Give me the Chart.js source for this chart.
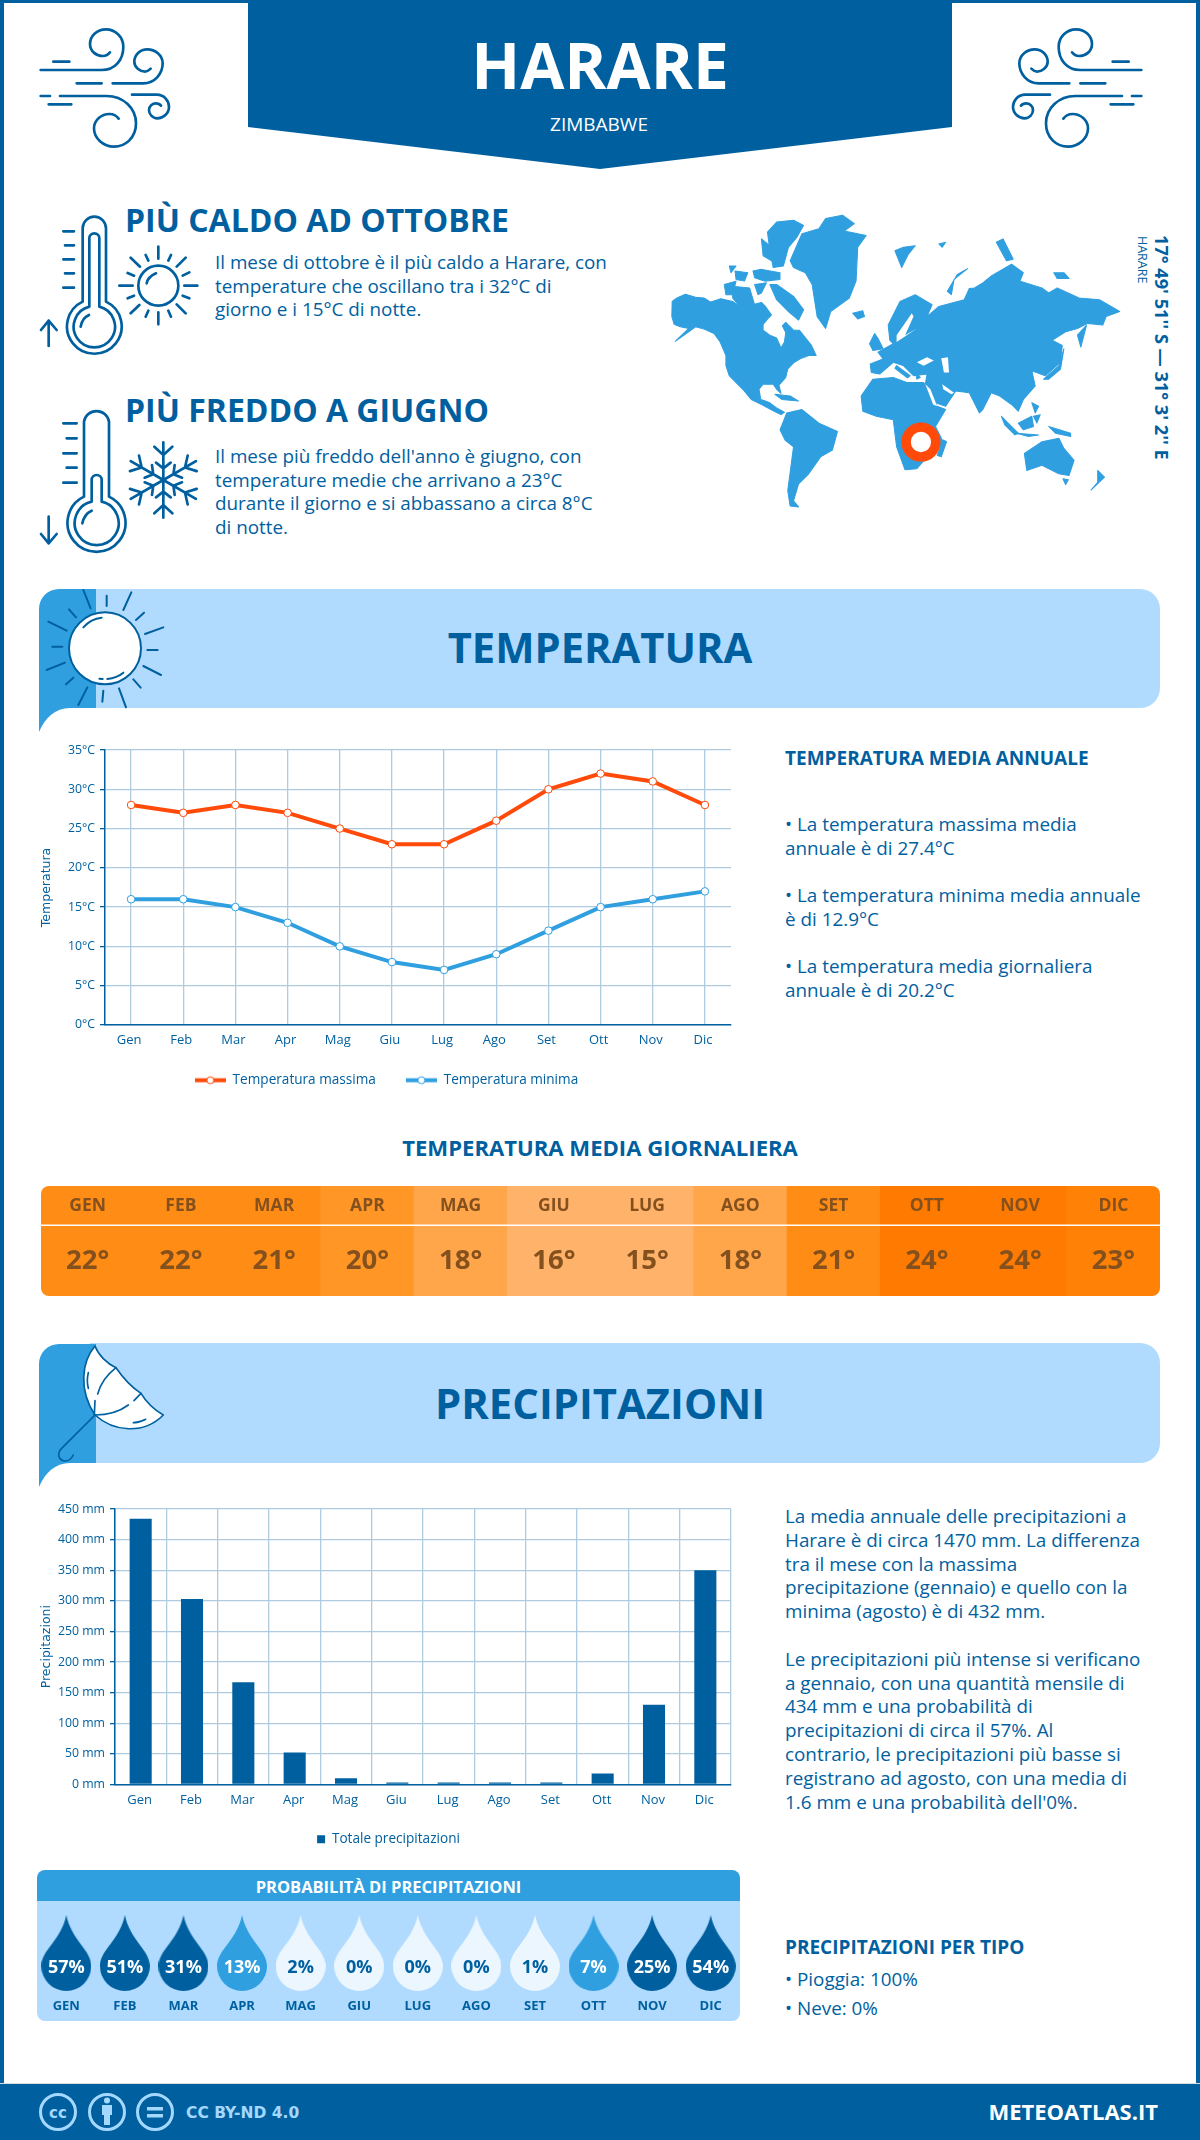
<!DOCTYPE html>
<html lang="it">
<head>
<meta charset="utf-8">
<title>Harare - Zimbabwe</title>
<script src="https://cdn.jsdelivr.net/npm/chart.js@4"></script>
<style>
html, body { margin: 0; padding: 0; background: #fff; }
#page { position: relative; width: 1200px; height: 2140px; overflow: hidden; background: #fff; font-family: "Open Sans", sans-serif; color: #00609f; }
#frame { position: absolute; left: 0; top: 0; width: 1192px; height: 2137px; border: 4px solid #00609f; border-top-width: 3px; border-bottom: 0; }
.t { position: absolute; white-space: nowrap; }
.b { font-weight: 700; }
.para { font-size: 18.85px; line-height: 23.7px; }
svg, canvas { position: absolute; display: block; }
.ink { fill: none; stroke: #00609f; stroke-linecap: round; stroke-linejoin: round; }
#footer { position: absolute; left: 0; top: 2083px; width: 1200px; height: 57px; background: #00609f; border-top: 1.5px solid #d5dde3; box-sizing: border-box; }
</style>
</head>
<body>
<div id="page">
  <div id="frame"></div>

  <!-- header -->
  <svg style="left:0;top:0" width="1200" height="180"><polygon points="248,0 952,0 952,127 600,169 248,127" fill="#00609f"/></svg>
  <div class="t b" style="left:248px;width:704px;text-align:center;top:21px;font-size:64px;line-height:88px;color:#fff">HARARE</div>
  <div class="t" style="left:247px;width:704px;text-align:center;top:110px;font-size:19px;line-height:28px;color:#fff">ZIMBABWE</div>
  <svg style="left:20px;top:10px" width="160" height="160" viewBox="0 0 480 480"><use href="#wind"/></svg>
  <svg style="left:1002px;top:10px;transform:scaleX(-1)" width="160" height="160" viewBox="0 0 480 480">
    <g id="wind" class="ink" stroke-width="8">
      <path d="M62,180 H245 C285,180 310,150 310,110 C310,80 285,58 258,58 C230,58 210,78 210,102 C210,125 230,138 248,138 C258,138 266,133 270,127"/>
      <path d="M100,155 H148 M170,220 H245 M62,258 H90 M86,283 H154"/>
      <path d="M278,220 H370 C405,220 428,190 428,160 C428,135 405,118 382,118 C360,118 343,135 343,155 C343,172 360,185 375,185 C383,185 388,180 392,176"/>
      <path d="M120,258 H260 C310,258 348,295 348,340 C348,385 315,410 282,410 C250,410 222,385 222,355 C222,330 245,312 268,312 C280,312 290,318 296,326"/>
      <path d="M336,254 H410 C435,254 447,275 447,290 C447,310 430,325 412,325 C397,325 387,312 387,300 C387,288 397,280 408,280 C415,280 420,283 423,287"/>
    </g>
  </svg>

  <!-- hottest / coldest -->
  <svg style="left:20px;top:190px" width="300" height="380" viewBox="0 0 900 1140">
    <g class="ink" stroke-width="8">
      <path d="M188,335 V115 A35,35 0 0 1 258,115 V335 A82,82 0 1 1 188,335 Z"/>
      <path d="M208,350 V145 A15,15 0 0 1 238,145 V350 A62,62 0 1 1 208,350 Z"/>
      <path d="M182,410 C185,392 195,380 207,375"/>
      <path d="M130,124 H162 M135,166 H162 M130,208 H162 M135,250 H162 M130,293 H162"/>
      <path d="M86,468 V392 M63,420 L86,392 L110,420"/>
      <circle cx="415" cy="287" r="60"/>
      <path d="M380,280 C382,268 390,258 408,250"/>
      <path d="M415,170 V206 M415,367 V403 M298,287 H338 M493,287 H532 M332,203 L360,230 M497,203 L470,230 M332,370 L358,345 M497,370 L470,343"/>
      <path d="M377,195 L385,212 M453,195 L445,212 M323,249 L342,257 M508,247 L488,257 M323,325 L342,317 M508,325 L488,317 M377,380 L385,362 M453,380 L445,362"/>

      <path d="M192,920 V695 A38,38 0 0 1 267,695 V920 A87,87 0 1 1 192,920 Z"/>
      <path d="M215,935 V870 A15,15 0 0 1 245,870 V935 A66,66 0 1 1 215,935 Z"/>
      <path d="M187,1000 C190,985 197,970 215,962"/>
      <path d="M130,700 H170 M140,745 H170 M130,790 H170 M140,833 H170 M130,878 H170"/>
      <path d="M86,980 V1060 M63,1032 L86,1060 L110,1032"/>
      <g transform="translate(430,870)">
        <g id="arm"><path d="M0,0 V-113 M-27,-100 L0,-75 L27,-100 M-22,-52 L0,-35 L22,-52"/></g>
        <use href="#arm" transform="rotate(60)"/>
        <use href="#arm" transform="rotate(120)"/>
        <use href="#arm" transform="rotate(180)"/>
        <use href="#arm" transform="rotate(240)"/>
        <use href="#arm" transform="rotate(300)"/>
      </g>
    </g>
  </svg>
  <div class="t b" style="left:125px;top:199px;font-size:32px;line-height:42px">PIÙ CALDO AD OTTOBRE</div>
  <div class="t para" style="left:215px;top:251px">Il mese di ottobre è il più caldo a Harare, con<br>temperature che oscillano tra i 32°C di<br>giorno e i 15°C di notte.</div>
  <div class="t b" style="left:125px;top:389px;font-size:32px;line-height:42px">PIÙ FREDDO A GIUGNO</div>
  <div class="t para" style="left:215px;top:445px">Il mese più freddo dell'anno è giugno, con<br>temperature medie che arrivano a 23°C<br>durante il giorno e si abbassano a circa 8°C<br>di notte.</div>

  <!-- world map -->
  <svg style="left:660px;top:200px" width="530" height="530" viewBox="0 0 1568 1568">
    <g fill="#2f9fe0" stroke="#2f9fe0" stroke-width="3" stroke-linejoin="round">
      <path d="M36,300 L50,290 L75,279 L105,288 L130,290 L150,302 L180,292 L215,300 L235,315 L265,312 L300,303 L312,315 L330,340 L320,350 L305,368 L305,385 L325,400 L345,408 L358,438 L368,420 L372,392 L362,372 L372,362 L395,385 L412,385 L428,405 L448,430 L462,460 L440,460 L415,470 L395,482 L378,500 L372,525 L352,548 L358,572 L345,560 L335,545 L305,545 L293,560 L298,590 L325,600 L345,615 L368,628 L358,635 L338,625 L310,610 L270,590 L245,560 L225,540 L205,520 L195,490 L195,460 L178,420 L160,395 L130,382 L105,375 L85,390 L45,418 L85,380 L60,375 L42,368 L35,345 Z"/>
      <path d="M318,95 L345,65 L395,60 L425,75 L405,110 L380,140 L365,195 L335,200 L325,150 Z"/>
      <path d="M325,250 L345,250 L395,285 L425,325 L410,355 L380,330 L345,295 Z"/>
      <path d="M190,250 L225,240 L215,280 L195,280 Z M205,195 L225,195 L210,215 Z M222,210 L260,215 L250,240 L225,235 Z M275,210 L300,205 L355,215 L355,235 L310,240 L280,230 Z M215,255 L265,260 L280,310 L235,315 L215,290 Z M280,250 L315,245 L300,275 L290,280 Z M300,115 L325,135 L330,180 L305,165 Z"/>
      <path d="M385,180 L420,100 L470,85 L490,55 L540,45 L575,70 L545,92 L610,105 L585,140 L580,240 L560,290 L505,330 L490,380 L465,345 L450,250 L430,215 L395,200 Z"/>
      <path d="M570,335 L600,328 L605,345 L585,352 Z"/>
      <path d="M355,680 L375,630 L420,620 L470,660 L525,685 L510,740 L475,760 L440,810 L410,840 L395,890 L410,908 L385,905 L378,860 L395,730 L370,710 Z"/>
      <path d="M595,580 L630,530 L690,525 L730,540 L780,540 L820,610 L845,620 L815,670 L840,720 L790,760 L760,795 L725,798 L700,730 L690,650 L640,640 L600,625 Z"/>
      <path d="M838,710 L848,715 L832,760 L820,755 Z"/>
      <path d="M622,485 L660,470 L645,450 L690,425 L680,415 L675,370 L710,300 L755,280 L805,310 L790,345 L825,315 L900,295 L915,262 L930,260 L955,245 L980,225 L1040,190 L1075,215 L1065,240 L1130,260 L1150,275 L1175,260 L1240,290 L1300,295 L1360,330 L1320,345 L1310,370 L1265,365 L1235,380 L1200,390 L1160,415 L1190,430 L1185,480 L1140,520 L1100,505 L1110,550 L1075,590 L1060,625 L1040,605 L1005,580 L980,570 L955,620 L945,630 L915,570 L875,565 L845,610 L815,600 L785,545 L790,515 L750,520 L720,490 L690,480 L650,515 L625,510 Z"/>
      <path d="M620,425 L635,395 L645,410 L660,440 L630,445 Z"/>
      <path d="M850,270 L880,220 L910,203 L870,235 L862,280 Z"/>
      <path d="M695,150 L720,140 L755,135 L735,160 L715,200 Z M825,130 L845,125 L835,140 Z M995,125 L1015,115 L1045,175 L1025,180 Z M1165,215 L1195,215 L1210,232 L1175,232 Z"/>
      <path d="M1135,530 L1180,490 L1195,440 L1185,500 L1150,530 Z M1235,400 L1262,370 L1245,435 Z"/>
      <path d="M1010,640 L1060,690 L1050,695 L1020,665 Z M1055,690 L1120,695 L1090,700 Z M1060,660 L1100,640 L1105,670 L1075,680 Z M1105,640 L1125,635 L1115,660 Z M1100,600 L1120,610 L1110,630 Z M1150,670 L1215,690 L1215,700 L1170,690 Z"/>
      <path d="M1078,750 L1130,715 L1180,705 L1195,735 L1225,770 L1210,815 L1180,810 L1130,785 L1085,800 Z M1192,825 L1208,828 L1200,842 Z M1295,800 L1315,820 L1275,858 L1295,835 Z"/>
      <path d="M340,575 L385,580 L410,595 L360,590 Z"/>
      <path d="M700,490 L740,520 L732,526 L695,498 Z M755,505 L770,525 L760,530 Z"/>
    </g>
    <g fill="#fff">
      <path d="M760,480 L790,465 L810,475 L780,490 Z M832,468 L852,465 L855,510 L840,510 Z M700,400 L745,335 L750,345 L725,400 L760,380 L700,420 Z"/>
      <path d="M785,545 L800,560 L820,610 L808,605 Z M835,545 L870,570 L862,575 L838,560 Z"/>
    </g>
    <circle cx="772" cy="716" r="44" fill="#fff" stroke="#ff4a0a" stroke-width="28"/>
  </svg>
  <div class="t b" style="left:1150px;top:235px;writing-mode:vertical-rl;font-size:18.2px;line-height:24px">17° 49' 51'' S — 31° 3' 2'' E</div>
  <div class="t" style="left:1134px;top:236px;writing-mode:vertical-rl;font-size:12.5px;line-height:16px">HARARE</div>

  <!-- temperature -->
  <svg style="left:0;top:580px" width="1200" height="160">
    <path d="M90,9 H1140 A20,20 0 0 1 1160,29 V108 A20,20 0 0 1 1140,128 H90 Z" fill="#b0dbff"/>
    <path d="M39,152 V29 A20,20 0 0 1 59,9 H96 V128 H70 C55,128 45,138 39,152 Z" fill="#2f9fe0"/>
  </svg>
  <svg style="left:30px;top:580px" width="180" height="160" viewBox="0 0 540 480">
    <circle cx="225" cy="205" r="108" fill="#fff" stroke="#00609f" stroke-width="6"/>
    <g class="ink" stroke-width="6">
      <path d="M160,142 C175,125 195,115 215,113 M232,297 C250,295 268,288 280,278 M208,296 L218,297"/>
      <path d="M160,30 L182,85 M230,47 V78 M304,37 L280,90 M342,98 L318,120 M400,142 L345,162 M352,210 H383 M340,258 L393,285 M310,298 L332,323 M267,325 L288,382 M220,332 L217,365 M172,322 L145,375 M130,293 L108,313 M105,248 L50,270 M97,200 H67 M110,152 L55,125 M138,112 L117,88"/>
    </g>
  </svg>
  <div class="t b" style="left:0;width:1200px;text-align:center;top:619px;font-size:41.7px;line-height:56px">TEMPERATURA</div>
  <canvas id="tempChart" width="725" height="357" style="left:30px;top:740px"></canvas>
  <div class="t b" style="left:785px;top:745px;font-size:19px;line-height:26px">TEMPERATURA MEDIA ANNUALE</div>
  <div class="t para" style="left:785px;top:813px">• La temperatura massima media<br>annuale è di 27.4°C</div>
  <div class="t para" style="left:785px;top:884px">• La temperatura minima media annuale<br>è di 12.9°C</div>
  <div class="t para" style="left:785px;top:955px">• La temperatura media giornaliera<br>annuale è di 20.2°C</div>

  <div class="t b" style="left:0;width:1200px;text-align:center;top:1132px;font-size:22.1px;line-height:30px">TEMPERATURA MEDIA GIORNALIERA</div>
  <canvas id="dailyChart" width="1119" height="110" style="left:41px;top:1186px;border-radius:8px"></canvas>

  <!-- precipitation -->
  <svg style="left:0;top:1335px" width="1200" height="160">
    <path d="M90,8 H1140 A20,20 0 0 1 1160,28 V108 A20,20 0 0 1 1140,128 H90 Z" fill="#b0dbff"/>
    <path d="M39,152 V29 A20,20 0 0 1 59,9 H96 V128 H70 C55,128 45,138 39,152 Z" fill="#2f9fe0"/>
  </svg>
  <svg style="left:30px;top:1335px" width="180" height="160" viewBox="0 0 540 480">
    <path d="M195,33 C155,80 145,165 195,240 C250,290 340,300 400,240 C365,220 345,195 333,175 C310,160 280,130 258,98 C230,85 205,60 195,33 Z" fill="#fff" stroke="#00609f" stroke-width="5" stroke-linejoin="round"/>
    <g class="ink" stroke-width="5">
      <path d="M195,240 C240,240 275,225 295,210 M312,197 L333,175 M258,98 C230,120 210,150 203,177 M195,197 L193,240"/>
      <path d="M175,113 C171,130 171,145 175,160 M310,263 C325,263 335,258 347,253"/>
      <path d="M195,240 L95,340 C80,355 85,375 105,378 C115,378 125,370 130,360"/>
    </g>
  </svg>
  <div class="t b" style="left:0;width:1200px;text-align:center;top:1375px;font-size:41.8px;line-height:56px">PRECIPITAZIONI</div>
  <canvas id="rainChart" width="725" height="357" style="left:30px;top:1499px"></canvas>
  <div class="t para" style="left:785px;top:1505px;line-height:23.8px">La media annuale delle precipitazioni a<br>Harare è di circa 1470 mm. La differenza<br>tra il mese con la massima<br>precipitazione (gennaio) e quello con la<br>minima (agosto) è di 432 mm.<br><br>Le precipitazioni più intense si verificano<br>a gennaio, con una quantità mensile di<br>434 mm e una probabilità di<br>precipitazioni di circa il 57%. Al<br>contrario, le precipitazioni più basse si<br>registrano ad agosto, con una media di<br>1.6 mm e una probabilità dell'0%.</div>

  <div style="position:absolute;left:37px;top:1870px;width:703px;height:31px;background:#2f9fe0;border-radius:8px 8px 0 0"></div>
  <div class="t b" style="left:37px;width:703px;text-align:center;top:1874px;font-size:16.5px;line-height:26px;color:#fff">PROBABILITÀ DI PRECIPITAZIONI</div>
  <canvas id="probChart" width="703" height="120" style="left:37px;top:1901px;background:#b0dbff;border-radius:0 0 8px 8px"></canvas>

  <div class="t b" style="left:785px;top:1934px;font-size:19px;line-height:26px">PRECIPITAZIONI PER TIPO</div>
  <div class="t para" style="left:785px;top:1968px">• Pioggia: 100%</div>
  <div class="t para" style="left:785px;top:1997px">• Neve: 0%</div>

  <!-- footer -->
  <div id="footer"></div>
  <svg style="left:0;top:2082px" width="320" height="58">
    <g fill="none" stroke="#a5d8ff" stroke-width="3">
      <circle cx="58" cy="30" r="17.5"/>
      <circle cx="107" cy="30" r="17.5"/>
      <circle cx="155" cy="30" r="17.5"/>
    </g>
    <text x="58" y="35.5" text-anchor="middle" font-family="DejaVu Sans" font-weight="700" font-size="15" fill="#a5d8ff">cc</text>
    <g fill="#a5d8ff">
      <circle cx="107" cy="18.5" r="3"/>
      <rect x="102" y="23" width="10" height="10"/>
      <rect x="104" y="33" width="6" height="10"/>
      <rect x="147" y="25" width="16" height="3.5"/>
      <rect x="147" y="32" width="16" height="3.5"/>
    </g>
    <text x="186" y="35.5" font-family="DejaVu Sans" font-weight="700" font-size="15.5" fill="#a5d8ff">CC BY-ND 4.0</text>
  </svg>
  <div class="t b" style="right:42px;top:2096px;font-size:22px;line-height:30px;color:#fff">METEOATLAS.IT</div>
</div>

<script>
const DARK = "#00609f";
const MID = "#2f9fe0";
const GRID = "#aecbdf";
const FONT = "'Open Sans', sans-serif";

const months = ["Gen", "Feb", "Mar", "Apr", "Mag", "Giu", "Lug", "Ago", "Set", "Ott", "Nov", "Dic"];
const monthsUpper = ["GEN", "FEB", "MAR", "APR", "MAG", "GIU", "LUG", "AGO", "SET", "OTT", "NOV", "DIC"];
const tempMax = [28, 27, 28, 27, 25, 23, 23, 26, 30, 32, 31, 28];
const tempMin = [16, 16, 15, 13, 10, 8, 7, 9, 12, 15, 16, 17];
const tempDaily = [22, 22, 21, 20, 18, 16, 15, 18, 21, 24, 24, 23];
const rainTotal = [434, 303, 167, 52, 10, 2, 2, 1.6, 2, 18, 130, 350];
const rainProb = [57, 51, 31, 13, 2, 0, 0, 0, 1, 7, 25, 54];

Chart.defaults.animation = false;
Chart.defaults.responsive = false;
Chart.defaults.font.family = FONT;
Chart.defaults.color = DARK;

// legend swatch: thick line with a small open dot in the middle
function lineSwatch(color) {
    const c = document.createElement("canvas");
    c.width = 31;
    c.height = 11;
    const ctx = c.getContext("2d");
    ctx.fillStyle = color;
    ctx.fillRect(0, 3.5, 31, 4);
    ctx.beginPath();
    ctx.arc(15.5, 5.5, 3.5, 0, Math.PI * 2);
    ctx.fillStyle = "#fff";
    ctx.fill();
    ctx.lineWidth = 1;
    ctx.strokeStyle = color;
    ctx.stroke();
    return c;
}

function axisX(boxHeight, labelShift) {
    return {
        offset: true,
        grid: { color: GRID, lineWidth: 1.3, drawTicks: false },
        border: { color: DARK, width: 1.5 },
        ticks: { font: { size: 13 }, padding: 8, labelOffset: labelShift, maxRotation: 0, autoSkip: false },
        afterFit: (s) => {
            s.height = boxHeight;
            s.paddingLeft = 0;
            s.paddingRight = 0;
        }
    };
}

function axisY(max, step, unit, titleText, boxWidth) {
    return {
        min: 0,
        max: max,
        grid: { color: GRID, lineWidth: 1.3, tickLength: 5, tickColor: DARK },
        border: { color: DARK, width: 1.5 },
        ticks: { stepSize: step, font: { size: 12.3 }, padding: 5, callback: (v) => v + unit },
        title: { display: true, text: titleText, color: DARK, padding: { top: 9, bottom: 0 }, font: { family: "'DejaVu Sans'", size: 12.5 } },
        afterFit: (s) => {
            s.width = boxWidth;
            s.paddingTop = 0;
            s.paddingBottom = 0;
        }
    };
}

// the x box is shorter than its labels so the legend sits close: do not clip them,
// and move the legend a little right of the plot's centre
function legendNudge(px) {
    return {
        id: "legendNudge",
        beforeDraw(chart) {
            chart.scales.x.bottom = chart.height;
            chart.legend.left += px;
            chart.legend.right += px;
        }
    };
}

new Chart(document.getElementById("tempChart"), {
    type: "line",
    data: {
        labels: months,
        datasets: [
            { label: "Temperatura massima", data: tempMax, borderColor: "#ff4a0a", backgroundColor: "#fff", borderWidth: 4, pointRadius: 3.8, pointBorderWidth: 1, tension: 0 },
            { label: "Temperatura minima", data: tempMin, borderColor: MID, backgroundColor: "#fff", borderWidth: 4, pointRadius: 3.8, pointBorderWidth: 1, tension: 0 }
        ]
    },
    options: {
        layout: { padding: { top: 10, right: 24 } },
        scales: {
            x: axisX(18.5, -2),
            y: axisY(35, 5, "°C", "Temperatura", 75)
        },
        plugins: {
            tooltip: { enabled: false },
            legend: {
                position: "bottom",
                labels: {
                    usePointStyle: true,
                    pointStyleWidth: 31,
                    padding: 30,
                    font: { size: 13.6 },
                    generateLabels: (chart) => Chart.defaults.plugins.legend.labels.generateLabels(chart).map((item) => {
                        item.pointStyle = lineSwatch(chart.data.datasets[item.datasetIndex].borderColor);
                        return item;
                    })
                }
            }
        }
    },
    plugins: [legendNudge(6)]
});

new Chart(document.getElementById("rainChart"), {
    type: "bar",
    data: {
        labels: months,
        datasets: [
            { label: "Totale precipitazioni", data: rainTotal, backgroundColor: DARK, categoryPercentage: 1, barPercentage: 0.43, minBarLength: 2 }
        ]
    },
    options: {
        layout: { padding: { top: 10, right: 24 } },
        scales: {
            x: axisX(38, -1),
            y: axisY(450, 50, " mm", "Precipitazioni", 85)
        },
        plugins: {
            tooltip: { enabled: false },
            legend: {
                position: "bottom",
                labels: { boxWidth: 8, boxHeight: 8, padding: 10, font: { size: 13.6 } }
            }
        }
    },
    plugins: [legendNudge(8)]
});

// daily temperature strip, a darker orange for the warmer months
function dailyColor(t) {
    if (t >= 24) return "#ff7a00";
    if (t >= 23) return "#ff8206";
    if (t >= 21) return "#ff8c14";
    if (t >= 20) return "#ff9626";
    if (t >= 18) return "#ffa54a";
    return "#ffb26a";
}

const dailyLabels = {
    id: "dailyLabels",
    afterDatasetsDraw(chart) {
        const ctx = chart.ctx;
        const x = chart.scales.x;
        ctx.save();
        ctx.fillStyle = "#fff";
        ctx.fillRect(0, 38.5, chart.width, 1.5);
        ctx.textAlign = "center";
        ctx.textBaseline = "middle";
        ctx.fillStyle = "#84501e";
        monthsUpper.forEach((m, i) => {
            ctx.font = "700 17.5px " + FONT;
            ctx.fillText(m, x.getPixelForValue(i), 20);
            ctx.font = "700 27.5px " + FONT;
            ctx.fillText(tempDaily[i] + "°", x.getPixelForValue(i), 75);
        });
        ctx.restore();
    }
};

new Chart(document.getElementById("dailyChart"), {
    type: "bar",
    data: {
        labels: monthsUpper,
        datasets: [
            // every cell fills the strip, only the colour follows the value
            { data: tempDaily.map(() => 1), backgroundColor: tempDaily.map(dailyColor), categoryPercentage: 1, barPercentage: 1 }
        ]
    },
    options: {
        scales: {
            x: { display: false },
            y: { display: false, min: 0, max: 1 }
        },
        plugins: { legend: { display: false }, tooltip: { enabled: false } }
    },
    plugins: [dailyLabels]
});

// drop marker for the probability row
function dropImage(p) {
    const c = document.createElement("canvas");
    c.width = 50;
    c.height = 76;
    const ctx = c.getContext("2d");
    ctx.beginPath();
    ctx.moveTo(25, 0);
    ctx.bezierCurveTo(30, 25, 50, 35, 50, 51);
    ctx.arc(25, 51, 25, 0, Math.PI);
    ctx.bezierCurveTo(0, 35, 20, 25, 25, 0);
    ctx.fillStyle = dropColor(p);
    ctx.fill();
    return c;
}

function dropColor(p) {
    if (p >= 25) return DARK;
    if (p >= 5) return MID;
    return "#ecf6ff";
}

const probLabels = {
    id: "probLabels",
    afterDatasetsDraw(chart) {
        const ctx = chart.ctx;
        const pts = chart.getDatasetMeta(0).data;
        ctx.save();
        ctx.font = "700 18px " + FONT;
        ctx.textAlign = "center";
        ctx.textBaseline = "middle";
        pts.forEach((pt, i) => {
            ctx.fillStyle = rainProb[i] >= 5 ? "#fff" : DARK;
            ctx.fillText(rainProb[i] + "%", pt.x, pt.y + 15);
        });
        ctx.restore();
    }
};

new Chart(document.getElementById("probChart"), {
    type: "line",
    data: {
        labels: monthsUpper,
        datasets: [
            { data: rainProb.map(() => 0.5), showLine: false, pointStyle: rainProb.map(dropImage), pointRadius: 1, clip: false }
        ]
    },
    options: {
        layout: { autoPadding: false, padding: { top: 14 } },
        scales: {
            x: {
                offset: true,
                grid: { display: false, drawTicks: false },
                border: { display: false },
                ticks: { padding: 7, font: { size: 13, weight: "700" }, maxRotation: 0, autoSkip: false },
                afterFit: (s) => {
                    s.height = 30;
                    s.paddingLeft = 0;
                    s.paddingRight = 0;
                }
            },
            y: { display: false, min: 0, max: 1 }
        },
        plugins: { legend: { display: false }, tooltip: { enabled: false } }
    },
    plugins: [probLabels]
});
</script>
</body>
</html>
